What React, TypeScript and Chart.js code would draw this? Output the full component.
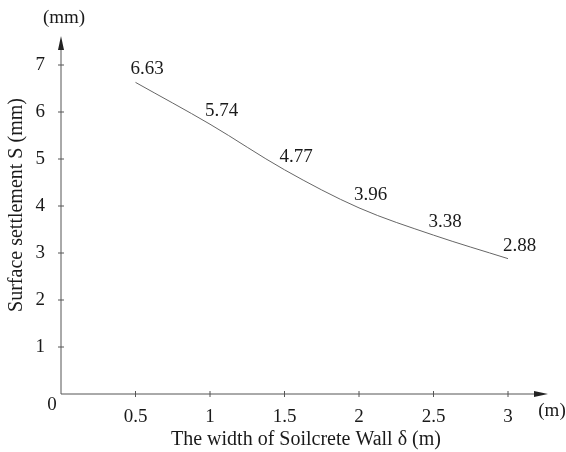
import React, { useEffect, useRef } from "react";
import { Chart, registerables } from "chart.js";

Chart.register(...registerables);

const widths = [0.5, 1, 1.5, 2, 2.5, 3];
const settlement = [6.63, 5.74, 4.77, 3.96, 3.38, 2.88];
const xTicks = [0, 0.5, 1, 1.5, 2, 2.5, 3];
const yTicks = [0, 1, 2, 3, 4, 5, 6, 7];
const xTitle = "The width of Soilcrete Wall δ (m)";
const yTitle = "Surface settlement S (mm)";
const xUnit = "(m)";
const yUnit = "(mm)";
const originLabel = "0";

const FONT = "'Liberation Serif', 'Times New Roman', serif";
const TEXT = "#1a1a1a";
const AXIS = "#555555";

const decorPlugin = {
  id: "decor",
  afterDraw(chart: any) {
    const ctx = chart.ctx as CanvasRenderingContext2D;
    const xs = chart.scales.x;
    const ys = chart.scales.y;
    const ca = chart.chartArea;
    const ox = xs.getPixelForValue(0);
    const oy = ys.getPixelForValue(0);
    const yTip = ca.top - 29;
    const xTip = ca.right + 40;
    ctx.save();
    ctx.strokeStyle = AXIS;
    ctx.fillStyle = AXIS;
    ctx.lineWidth = 1;
    // axes
    ctx.beginPath();
    ctx.moveTo(ox, oy);
    ctx.lineTo(ox, yTip + 6);
    ctx.moveTo(ox, oy);
    ctx.lineTo(xTip - 6, oy);
    ctx.stroke();
    // arrows
    ctx.fillStyle = "#222";
    ctx.beginPath();
    ctx.moveTo(ox, yTip);
    ctx.lineTo(ox - 3, yTip + 14);
    ctx.lineTo(ox + 3, yTip + 14);
    ctx.closePath();
    ctx.fill();
    ctx.beginPath();
    ctx.moveTo(xTip, oy);
    ctx.lineTo(xTip - 14, oy - 3);
    ctx.lineTo(xTip - 14, oy + 3);
    ctx.closePath();
    ctx.fill();
    // tick marks
    ctx.beginPath();
    xTicks.forEach((v) => {
      if (v === 0) return;
      const px = xs.getPixelForValue(v);
      ctx.moveTo(px, oy - 3);
      ctx.lineTo(px, oy + 3);
    });
    yTicks.forEach((v) => {
      if (v === 0) return;
      const py = ys.getPixelForValue(v);
      ctx.moveTo(ox - 3, py);
      ctx.lineTo(ox + 3, py);
    });
    ctx.stroke();
    // texts
    ctx.fillStyle = TEXT;
    ctx.font = `19px ${FONT}`;
    ctx.textAlign = "center";
    ctx.textBaseline = "middle";
    ctx.fillText(originLabel, ox - 9, oy + 11);
    ctx.fillText(xUnit, xTip + 4, oy + 17);
    ctx.fillText(yUnit, ox + 3, yTip - 18);
    ctx.font = `20px ${FONT}`;
    ctx.fillText(xTitle, 306, 440);
    ctx.save();
    ctx.translate(17, 205);
    ctx.rotate(-Math.PI / 2);
    ctx.fillText(yTitle, 0, 0);
    ctx.restore();
    // data labels
    ctx.font = `19px ${FONT}`;
    const meta = chart.getDatasetMeta(0);
    ctx.textAlign = "left";
    ctx.textBaseline = "alphabetic";
    meta.data.forEach((pt: any, i: number) => {
      ctx.fillText(settlement[i].toFixed(2), pt.x - 5, pt.y - 8);
    });
    ctx.restore();
  },
};

export default function App() {
  const ref = useRef<HTMLCanvasElement | null>(null);
  useEffect(() => {
    if (!ref.current) return;
    const chart = new Chart(ref.current, {
      type: "line",
      data: {
        datasets: [
          {
            data: widths.map((w, i) => ({ x: w, y: settlement[i] })),
            borderColor: "#666666",
            borderWidth: 1,
            pointRadius: 0,
            tension: 0.4,
            cubicInterpolationMode: "monotone",
            fill: false,
          },
        ],
      },
      options: {
        animation: false,
        responsive: false,
        maintainAspectRatio: false,
        layout: { padding: { top: 65, right: 58, left: 0, bottom: 0 } },
        plugins: { legend: { display: false }, tooltip: { enabled: false } },
        scales: {
          x: {
            type: "linear",
            min: 0,
            max: 3,
            grid: { display: false },
            border: { display: false },
            afterBuildTicks: (s: any) => {
              s.ticks = xTicks.map((v) => ({ value: v }));
            },
            afterFit: (s: any) => {
              s.height = 58;
            },
            ticks: {
              color: TEXT,
              font: { family: FONT, size: 19 },
              padding: 4,
              maxRotation: 0,
              autoSkip: false,
              callback: (v: any) => (v === 0 ? "" : String(v)),
            },
          },
          y: {
            type: "linear",
            min: 0,
            max: 7,
            grid: { display: false },
            border: { display: false },
            afterBuildTicks: (s: any) => {
              s.ticks = yTicks.map((v) => ({ value: v }));
            },
            afterFit: (s: any) => {
              s.width = 61;
            },
            ticks: {
              color: TEXT,
              font: { family: FONT, size: 19 },
              padding: 8,
              callback: (v: any) => (v === 0 ? "" : String(v)),
            },
          },
        },
      },
      plugins: [decorPlugin],
    } as any);
    return () => chart.destroy();
  }, []);
  return (
    <div style={{ position: "fixed", left: 0, top: 0, width: 566, height: 452, background: "#fff" }}>
      <canvas ref={ref} width={566} height={452} style={{ width: 566, height: 452 }} />
    </div>
  );
}
